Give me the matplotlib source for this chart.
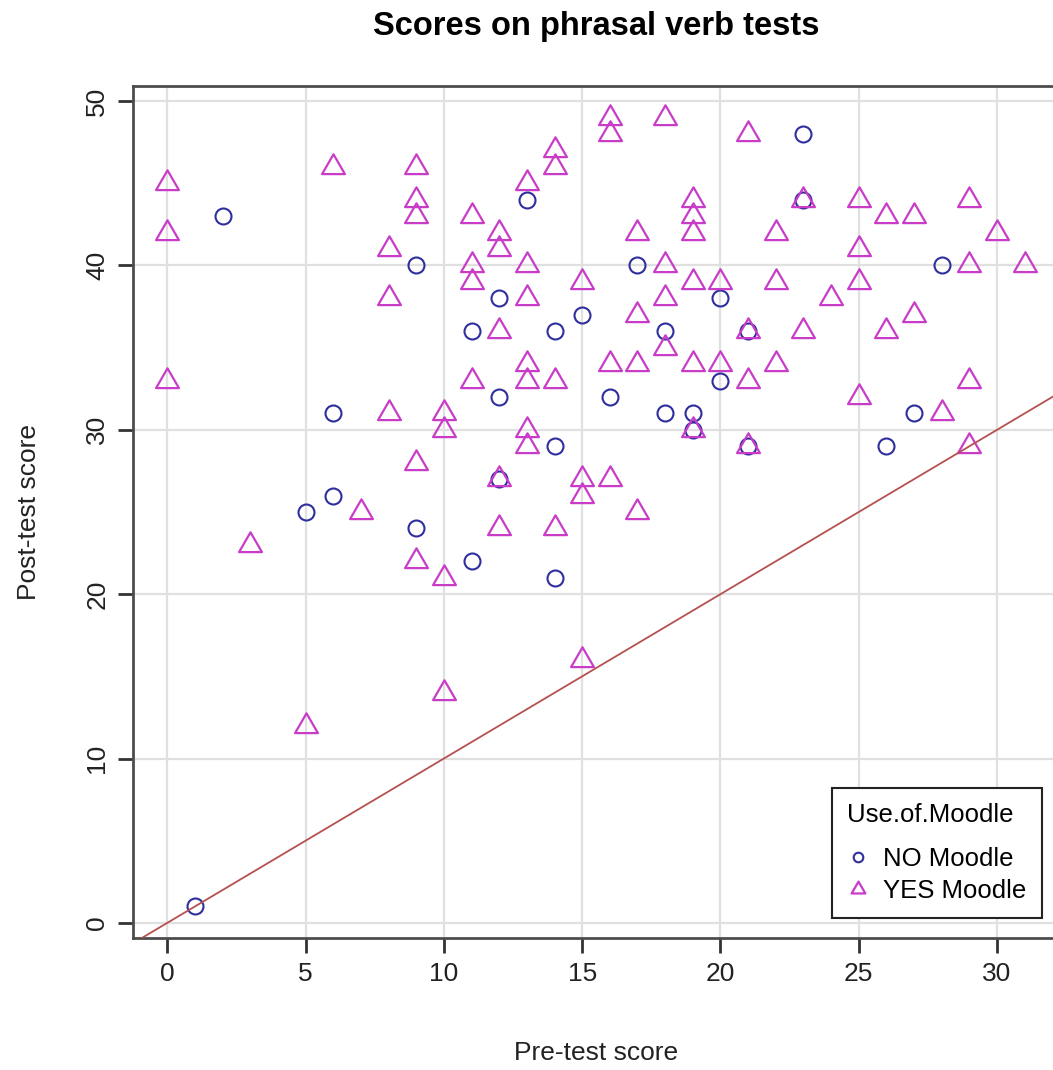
import numpy as np
import matplotlib
matplotlib.use("Agg")
import matplotlib.pyplot as plt
from matplotlib.path import Path

plt.rcParams['font.family'] = ['Liberation Sans', 'DejaVu Sans']

# NO Moodle group (circles)
no_pre = [1, 2, 5, 6, 6, 9, 9, 11, 11, 12, 12, 12, 13, 14, 14, 14, 15, 16, 17,
          18, 18, 19, 19, 20, 20, 21, 21, 23, 23, 26, 27, 28]
no_post = [1, 43, 25, 31, 26, 40, 24, 36, 22, 38, 32, 27, 44, 36, 29, 21, 37, 32, 40,
           36, 31, 31, 30, 38, 33, 36, 29, 48, 44, 29, 31, 40]

# YES Moodle group (triangles)
yes_pre = [0, 0, 0, 3, 5, 6, 7, 8, 8, 8,
           9, 9, 9, 9, 9, 10, 10, 10, 10,
           11, 11, 11, 11, 12, 12, 12, 12, 12,
           13, 13, 13, 13, 13, 13, 13, 14, 14, 14, 14,
           15, 15, 15, 15, 16, 16, 16, 16, 17, 17, 17, 17,
           18, 18, 18, 18, 19, 19, 19, 19, 19, 19, 20, 20,
           21, 21, 21, 21, 22, 22, 22, 23, 23, 24,
           25, 25, 25, 25, 26, 26, 27, 27, 28,
           29, 29, 29, 29, 30, 31]
yes_post = [45, 42, 33, 23, 12, 46, 25, 41, 38, 31,
            46, 44, 43, 28, 22, 31, 30, 21, 14,
            43, 40, 39, 33, 42, 41, 36, 27, 24,
            45, 40, 38, 34, 33, 30, 29, 47, 46, 33, 24,
            39, 27, 26, 16, 49, 48, 34, 27, 42, 37, 34, 25,
            49, 40, 38, 35, 44, 43, 42, 39, 34, 30, 39, 34,
            48, 36, 33, 29, 42, 39, 34, 44, 36, 38,
            44, 41, 39, 32, 43, 36, 43, 37, 31,
            44, 40, 33, 29, 42, 40]

groups = ["NO Moodle", "YES Moodle"]
x_ticks = [0, 5, 10, 15, 20, 25, 30]
y_ticks = [0, 10, 20, 30, 40, 50]

blue = "#2E2E9E"
magenta = "#C83CC8"
# equilateral triangle, centred on its centroid (like R's pch 2)
tri = Path([(0, 1), (-0.866, -0.5), (0.866, -0.5), (0, 0)], closed=True)

fig = plt.figure(figsize=(10.53, 10.70), dpi=100)
ax = fig.add_axes([133 / 1053, (1070 - 938) / 1070, (1059 - 133) / 1053, (938 - 86) / 1070])

ax.set_xlim(-1.24, 32.24)
ax.set_ylim(-0.92, 50.92)
ax.set_xticks(x_ticks)
ax.set_yticks(y_ticks)
ax.grid(True, color="#E0E0E0", lw=1.6)
ax.set_axisbelow(True)

ax.plot(no_pre, no_post, ls="none", marker="o", ms=11.5, mfc="none", mec=blue,
        mew=1.5, label=groups[0])
ax.plot(yes_pre, yes_post, ls="none", marker=tri, ms=19, mfc="none", mec=magenta,
        mew=1.6, label=groups[1])
ax.axline((0, 0), slope=1, color="#B5514F", lw=1.3, zorder=3)

for s in ax.spines.values():
    s.set_color("#4D4D4D")
    s.set_linewidth(2)
ax.tick_params(axis="both", length=11, width=2, color="#333333", labelsize=19,
               labelcolor="#222222", pad=6)
for lab in ax.get_yticklabels():
    lab.set_rotation(90)
    lab.set_va("center")

ax.set_xlabel("Pre-test score", fontsize=19, color="#222222", labelpad=40)
ax.set_ylabel("Post-test score", fontsize=19, color="#222222", labelpad=32)
fig.text(596 / 1053, 1 - 26 / 1070, "Scores on phrasal verb tests", fontsize=23.5,
         fontweight="bold", ha="center", va="center")

leg = ax.legend(title="Use.of.Moodle", loc="upper right",
                bbox_to_anchor=(1042 / 1053, 1 - 788 / 1070),
                bbox_transform=fig.transFigure, fontsize=18.5, title_fontsize=18.5,
                alignment="left", fancybox=False, framealpha=1, edgecolor="#222222",
                markerscale=0.6, handlelength=0.8, handletextpad=0.6,
                labelspacing=0.3, borderpad=0.6, borderaxespad=0)
leg.get_frame().set_linewidth(1.5)
leg._legend_box.sep = 14

fig.savefig("out.png", dpi=100)
